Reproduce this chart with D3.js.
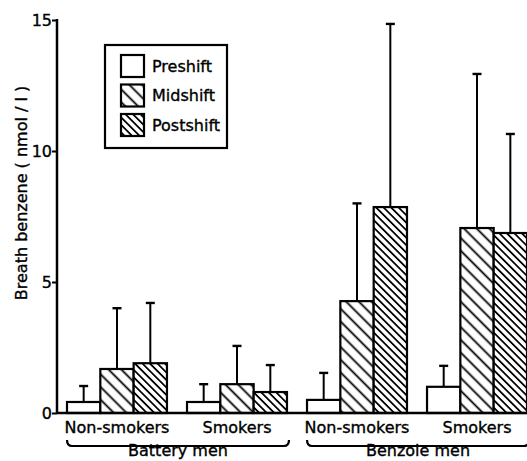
<!DOCTYPE html>
<html>
<head>
<meta charset="utf-8">
<script src="https://cdn.jsdelivr.net/npm/d3@7"></script>
<style>
  html, body { margin: 0; padding: 0; background: #fff; }
  svg { display: block; font-family: "DejaVu Sans", sans-serif; }
  svg text { fill: #000; stroke: #000; stroke-width: 0.35px; }
</style>
</head>
<body>
<svg id="chart" width="527" height="461"></svg>
<script>
// Breath benzene by worker group, smoking status and shift (mean + SD)
const groups = ["Battery men", "Benzole men"];
const subgroups = ["Non-smokers", "Smokers"];
const series = ["Preshift", "Midshift", "Postshift"];

// order: Battery non-smokers, Battery smokers, Benzole non-smokers, Benzole smokers
const preshift      = [0.42, 0.42, 0.50, 1.00];
const preshiftSD    = [1.03, 1.10, 1.53, 1.80];
const midshift      = [1.68, 1.10, 4.27, 7.06];
const midshiftSD    = [4.00, 2.56, 8.00, 12.94];
const postshift     = [1.90, 0.80, 7.86, 6.87];
const postshiftSD   = [4.20, 1.83, 14.85, 10.65];
const yTicks = [0, 5, 10, 15];

const cells = [];
groups.forEach((g, gi) => subgroups.forEach((s, si) => cells.push({ key: g + "|" + s, group: g, sub: s, idx: gi * 2 + si })));

const means = [preshift, midshift, postshift];
const sds = [preshiftSD, midshiftSD, postshiftSD];

const svg = d3.select("#chart");
const axisX = 57, baseY = 413, topY = 20, rightX = 527;

const y = d3.scaleLinear().domain([0, 15]).range([baseY, topY]);
const x = d3.scaleBand().domain(cells.map(c => c.key)).range([67, 527]).paddingInner(0.167).paddingOuter(0);
const xs = d3.scaleBand().domain(series).range([0, x.bandwidth()]).padding(0);

// hatch patterns
const defs = svg.append("defs");
function hatch(id, gap) {
  const p = defs.append("pattern").attr("id", id).attr("patternUnits", "userSpaceOnUse")
    .attr("width", gap).attr("height", gap).attr("patternTransform", "rotate(-45)");
  p.append("rect").attr("width", gap).attr("height", gap).attr("fill", "#fff");
  p.append("line").attr("x1", gap / 2).attr("x2", gap / 2).attr("y1", -1).attr("y2", gap + 1)
    .attr("stroke", "#000").attr("stroke-width", 1.8);
}
hatch("hatchMid", 9);
hatch("hatchPost", 5.3);
const fills = { "Preshift": "#fff", "Midshift": "url(#hatchMid)", "Postshift": "url(#hatchPost)" };

// bars
const bars = [];
cells.forEach(c => series.forEach((s, k) => bars.push({ cell: c, series: s, v: means[k][c.idx], sd: sds[k][c.idx] })));

const barG = svg.append("g");
barG.selectAll("rect").data(bars).join("rect")
  .attr("x", d => x(d.cell.key) + xs(d.series))
  .attr("y", d => y(d.v))
  .attr("width", xs.bandwidth())
  .attr("height", d => y(0) - y(d.v))
  .attr("fill", d => fills[d.series])
  .attr("stroke", "#000").attr("stroke-width", 2.2);

// error bars (upper SD only)
const errG = svg.append("g").attr("stroke", "#000").attr("stroke-width", 2);
bars.forEach(d => {
  const cx = x(d.cell.key) + xs(d.series) + xs.bandwidth() / 2;
  errG.append("line").attr("x1", cx).attr("x2", cx).attr("y1", y(d.v)).attr("y2", y(d.sd));
  errG.append("line").attr("x1", cx - 4.5).attr("x2", cx + 4.5).attr("y1", y(d.sd)).attr("y2", y(d.sd))
    .attr("stroke-width", 2.4);
});

// y axis
const yAxis = d3.axisLeft(y).tickValues(yTicks).tickSize(5).tickSizeOuter(0).tickFormat(d3.format("d"));
const yg = svg.append("g").attr("transform", `translate(${axisX},0)`).call(yAxis);
yg.select(".domain").remove();
yg.selectAll(".tick line").attr("stroke", "#000").attr("stroke-width", 2);
yg.selectAll(".tick text").attr("font-size", 16).attr("font-family", "DejaVu Sans").attr("x", -5);
svg.append("line").attr("x1", axisX).attr("x2", axisX).attr("y1", y(15) - 1).attr("y2", baseY + 1)
  .attr("stroke", "#000").attr("stroke-width", 2.5);
svg.append("line").attr("x1", axisX).attr("x2", rightX).attr("y1", baseY).attr("y2", baseY)
  .attr("stroke", "#000").attr("stroke-width", 2.5);

// y title
svg.append("text").attr("transform", `translate(27,${193}) rotate(-90)`)
  .attr("text-anchor", "middle").attr("font-size", 16).text("Breath benzene ( nmol / l )");

// subgroup labels
svg.append("g").selectAll("text").data(cells).join("text")
  .attr("x", d => x(d.key) + x.bandwidth() / 2).attr("y", 433)
  .attr("text-anchor", "middle").attr("font-size", 16).text(d => d.sub);

// group braces and labels
groups.forEach(g => {
  const ks = cells.filter(c => c.group === g).map(c => c.key);
  const x0 = x(ks[0]), x1 = Math.min(x(ks[ks.length - 1]) + x.bandwidth() + 2, rightX + 4);
  svg.append("path")
    .attr("d", `M${x0},${440} Q${x0},${446} ${x0 + 5},${446} L${x1 - 5},${446} Q${x1},${446} ${x1},${440}`)
    .attr("fill", "none").attr("stroke", "#000").attr("stroke-width", 2.2);
  svg.append("text").attr("x", (x0 + x1) / 2).attr("y", 456)
    .attr("text-anchor", "middle").attr("font-size", 16).text(g);
});

// legend
const lg = svg.append("g");
lg.append("rect").attr("x", 105).attr("y", 45).attr("width", 122).attr("height", 103)
  .attr("fill", "#fff").attr("stroke", "#000").attr("stroke-width", 2.2);
series.forEach((s, i) => {
  const yy = 55 + i * 29.5;
  lg.append("rect").attr("x", 121).attr("y", yy).attr("width", 23).attr("height", 22)
    .attr("fill", fills[s]).attr("stroke", "#000").attr("stroke-width", 2.2);
  lg.append("text").attr("x", 152).attr("y", yy + 11).attr("dy", "0.36em")
    .attr("font-size", 16).text(s);
});
</script>
</body>
</html>
